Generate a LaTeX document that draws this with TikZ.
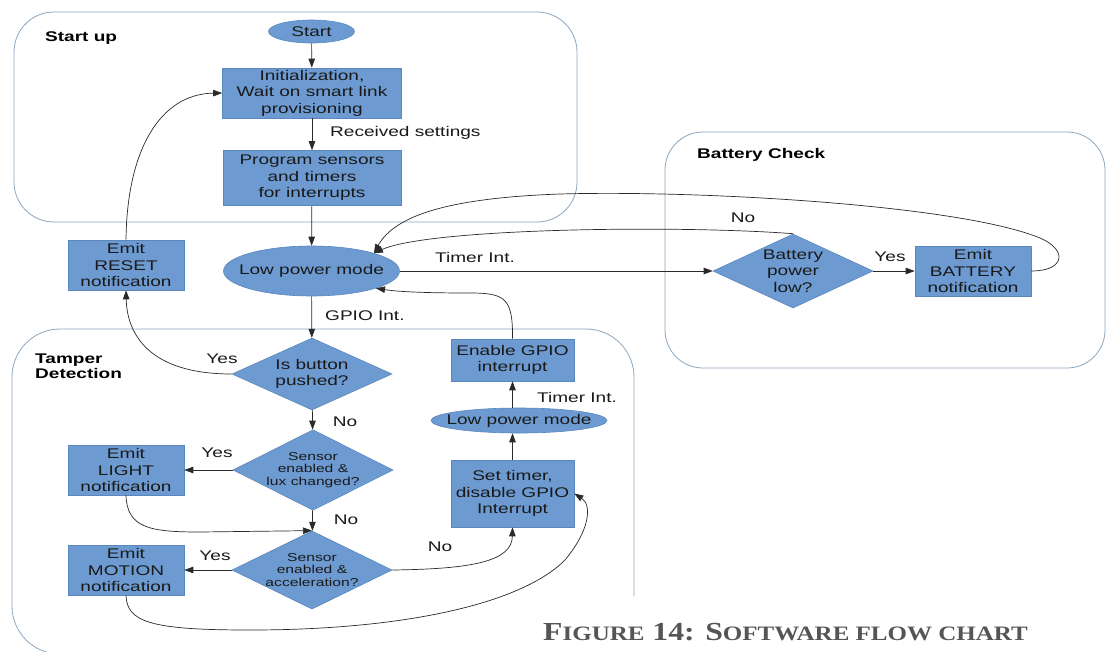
\documentclass[tikz,border=0pt]{standalone}
\usepackage{fontspec}
\setmainfont[FakeStretch=1.36]{Liberation Sans}
\newfontfamily\capfont[FakeStretch=1.22]{Liberation Serif}
\usetikzlibrary{shapes.geometric,arrows.meta}

\definecolor{boxfill}{HTML}{6D9BD1}
\definecolor{boxline}{HTML}{5A87BD}
\definecolor{grpline}{HTML}{8DA7BF}
\definecolor{wire}{HTML}{2A2A2A}
\definecolor{capgray}{HTML}{555555}

\newcommand\flowfont{\fontsize{14}{16.5}\selectfont}
\newcommand\smallflowfont{\fontsize{11.5}{12.5}\selectfont}
\newcommand\capbig[1]{{\fontsize{26}{28}\selectfont #1}}
\newcommand\capsmall[1]{{\fontsize{20.5}{28}\selectfont #1}}

\tikzset{
  proc/.style={rectangle, fill=boxfill, draw=boxline, line width=0.6pt,
    align=center, inner sep=1pt, font=\flowfont, text=black!90},
  term/.style={ellipse, fill=boxfill, draw=boxline, line width=0.6pt,
    inner xsep=-14pt, inner ysep=-4pt, font=\flowfont, text=black!90},
  decision/.style={diamond, fill=boxfill, draw=boxline, line width=0.6pt,
    minimum width=160pt, minimum height=73pt, inner sep=-12pt,
    align=center, font=\flowfont, text=black!90},
  flow/.style={draw=wire, line width=0.7pt,
    -{Triangle[length=9pt,width=6.5pt]}},
  group/.style={draw=grpline, line width=0.8pt},
  lbl/.style={font=\flowfont, inner sep=0pt, text=black!90},
  grouplabel/.style={font=\flowfont\bfseries, align=left, inner sep=0pt,
    anchor=west, text=black},
}

\begin{document}
\begin{tikzpicture}[x=1pt, y=-1pt]
  \fill[white] (0,0) rectangle (1107,651);
  \useasboundingbox (0,0) rectangle (1107,651);

  % ---------- group frames ----------
  \draw[group, rounded corners=40pt] (14,12) rectangle (577,222);
  \draw[group, rounded corners=38pt] (665,132) rectangle (1105,368);
  \begin{scope}
    \clip (0,0) rectangle (1107,651);
    \draw[group, rounded corners=48pt]
      (634,596) -- (634,329) -- (12,329) -- (12,654) -- (140,654);
  \end{scope}

  \node[grouplabel] (lblstart) at (45,38) {Start up};
  \node[grouplabel] (lblbat) at (697,155) {Battery Check};
  \node[grouplabel] (lbltamper) at (35,366) {Tamper\\[-1pt]Detection};

  % ---------- start up ----------
  \node[term, minimum width=86pt, minimum height=23pt] (start) at (311.5,31.5) {Start};
  \node[proc, minimum width=179pt, minimum height=50pt] (init) at (312,93)
    {Initialization,\\Wait on smart link\\provisioning};
  \node[proc, minimum width=178pt, minimum height=55pt] (prog) at (312,178)
    {Program sensors\\and timers\\for interrupts};
  \node[term, minimum width=176pt, minimum height=50pt] (lpm) at (311.5,271)
    {Low power mode};
  \node[proc, minimum width=116pt, minimum height=50pt] (reset) at (126,265)
    {Emit\\RESET\\notification};

  % ---------- battery check ----------
  \node[decision, minimum height=74pt] (battery) at (793,271) {Battery\\power\\low?};
  \node[proc, minimum width=116pt, minimum height=50pt] (batnote) at (973,271)
    {Emit\\BATTERY\\notification};

  % ---------- tamper detection ----------
  \node[decision, minimum height=72pt] (button) at (312,374) {Is button\\pushed?};
  \node[decision, minimum height=71pt, font=\smallflowfont] (lux) at (313,470)
    {Sensor\\enabled \&\\lux changed?};
  \node[decision, minimum height=74pt, font=\smallflowfont] (accel) at (312,570)
    {Sensor\\enabled \&\\acceleration?};
  \node[proc, minimum width=116pt, minimum height=50pt] (light) at (126,470)
    {Emit\\LIGHT\\notification};
  \node[proc, minimum width=116pt, minimum height=50pt] (motion) at (126,570)
    {Emit\\MOTION\\notification};
  \node[proc, minimum width=123pt, minimum height=67pt] (settimer) at (512.5,493.5)
    {Set timer,\\disable GPIO\\Interrupt};
  \node[term, minimum width=176pt, minimum height=25pt] (lpmtwo) at (519,420.5)
    {Low power mode};
  \node[proc, minimum width=123pt, minimum height=42pt] (enable) at (512.5,360)
    {Enable GPIO\\interrupt};

  % ---------- connector labels ----------
  \node[lbl, anchor=west] (lrecv) at (330,133) {Received settings};
  \node[lbl, anchor=west] (lgpio) at (325,316) {GPIO Int.};
  \node[lbl, anchor=west] (ltimer) at (435,257) {Timer Int.};
  \node[lbl] (lbatno) at (743,218) {No};
  \node[lbl] (lbatyes) at (890,257) {Yes};
  \node[lbl] (lbtnyes) at (222,359) {Yes};
  \node[lbl] (lbtnno) at (345,422) {No};
  \node[lbl] (lluxyes) at (217,453) {Yes};
  \node[lbl] (lluxno) at (346,520) {No};
  \node[lbl] (laccyes) at (215,556) {Yes};
  \node[lbl] (laccno) at (440,547) {No};
  \node[lbl, anchor=west] (ltimertwo) at (537,397) {Timer Int.};

  % ---------- connectors ----------
  \draw[flow] (start) -- (init);
  \draw[flow] (init) -- (prog);
  \draw[flow] (prog) -- (lpm);
  \draw[flow] (lpm) -- (button);
  \draw[flow] (lpm.east) -- (battery.west);
  \draw[flow] (battery.east) -- (batnote.west);
  \draw[flow] (battery.north) .. controls (680,225) and (430,228) .. (lpm.16);
  \draw[flow] (batnote.east) .. controls (1065,271) and (1068,250) .. (1040,238)
    .. controls (960,205) and (700,190) .. (560,194)
    .. controls (450,198) and (395,215) .. (lpm.16);
  \draw[flow] (enable.north) .. controls (513,298) and (505,293) .. (470,293)
    .. controls (430,293) and (400,292) .. (lpm.-15);
  \draw[flow] (button.west) .. controls (150,374) and (127,335) .. (reset.south);
  \draw[flow] (reset.north) .. controls (127,150) and (160,94) .. (init.west);
  \draw[flow] (button) -- (lux);
  \draw[flow] (lux.west) -- (light.east);
  \draw[flow] (lux) -- (accel);
  \draw[flow] (light.south) .. controls (127,528) and (150,532) .. (200,532)
    -- (accel.north);
  \draw[flow] (accel.west) -- (motion.east);
  \draw[flow] (accel.east) .. controls (470,569) and (512,562) .. (settimer.south);
  \draw[flow] (motion.south) .. controls (127,622) and (150,630) .. (250,630)
    .. controls (400,630) and (520,605) .. (565,560)
    .. controls (590,530) and (592,505) .. (settimer.east);
  \draw[flow] (settimer.north) -- (lpmtwo.south -| settimer.north);
  \draw[flow] (lpmtwo.north -| enable.south) -- (enable.south);

  % ---------- caption ----------
  \node[inner sep=0pt, text=capgray, font=\capfont\bfseries] (caption) at (785.5,632)
    {\capbig{F}\capsmall{IGURE}\capbig{ 14: S}\capsmall{OFTWARE FLOW CHART}};
\end{tikzpicture}
\end{document}
